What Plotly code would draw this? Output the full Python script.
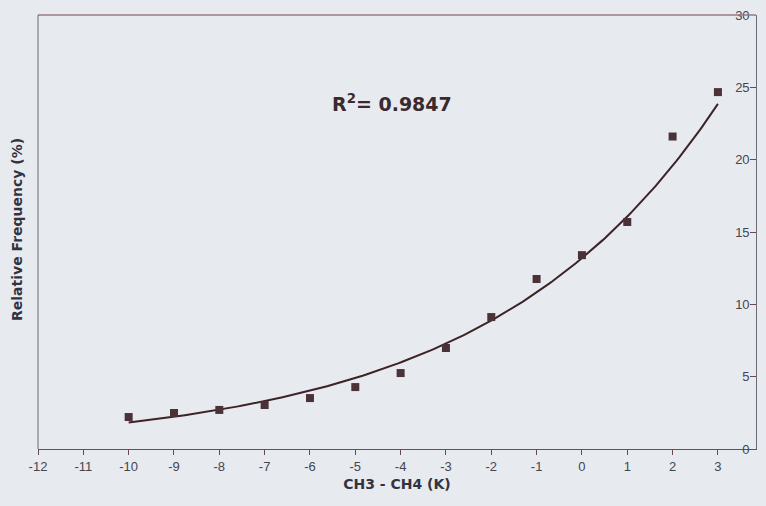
import numpy as np
import plotly.graph_objects as go

# Data
x_vals = [-10, -9, -8, -7, -6, -5, -4, -3, -2, -1, 0, 1, 2, 3]
freq = [2.21, 2.49, 2.70, 3.04, 3.52, 4.28, 5.25, 6.98, 9.12, 11.75, 13.4, 15.69, 21.6, 24.67]
x_ticks = list(range(-12, 4))
x_tick_text = ["-12", "-11", "-10", "-9", "-8", "-7", "-6", "-5", "-4", "-3",
               "-2", "-1", "0", "1", "2", "3"]
y_ticks = [0, 5, 10, 15, 20, 25, 30]
y_tick_text = ["0", "5", "10", "15", "20", "25", "30"]
r2_text = "R<sup>2</sup>= 0.9847"

# Exponential trendline fitted to the data (as Excel does)
b, ln_a = np.polyfit(np.array(x_vals, float), np.log(np.array(freq)), 1)
xt = np.linspace(min(x_vals), max(x_vals), 200)
yt = np.exp(ln_a) * np.exp(b * xt)

bg = "#e7eaef"
fig = go.Figure()
fig.add_trace(go.Scatter(x=xt, y=yt, mode="lines",
                         line=dict(color="#3d2226", width=2), hoverinfo="skip"))
fig.add_trace(go.Scatter(x=x_vals, y=freq, mode="markers",
                         marker=dict(symbol="square", size=8, color="#4a3238")))

fig.update_layout(
    width=766, height=506,
    margin=dict(l=38, r=10, t=15, b=57),
    paper_bgcolor=bg, plot_bgcolor=bg,
    showlegend=False,
    font=dict(family="Liberation Sans, Arial, sans-serif", color="#454550", size=13),
    xaxis=dict(range=[-12, 3.84], tickvals=x_ticks, ticktext=x_tick_text,
               ticks="outside", ticklen=5, automargin=False,
               tickcolor="#6a4a50", showgrid=False, zeroline=False,
               showline=True, linecolor="#8b4048", linewidth=1, mirror=False,
               tickfont=dict(size=13, color="#454550"),
               title=dict(text="<b>CH3 - CH4 (K)</b>", standoff=6,
                          font=dict(size=14, color="#333340",
                                    family="DejaVu Sans, sans-serif"))),
    yaxis=dict(range=[0, 30], tickvals=y_ticks, ticktext=y_tick_text,
               side="right", ticks="inside", automargin=False,
               ticklen=6, tickcolor="#6a4a50", ticklabelposition="inside",
               ticklabeloverflow="allow",
               showgrid=False, zeroline=False, showline=True,
               linecolor="#6a6a78", linewidth=1,
               tickfont=dict(size=13, color="#454550")),
    shapes=[
        dict(type="line", xref="paper", yref="paper", x0=0, x1=1, y0=1, y1=1,
             line=dict(color="#9a7a80", width=1.5)),
        dict(type="line", xref="paper", yref="paper", x0=0, x1=0, y0=0, y1=1,
             line=dict(color="#6a6a78", width=1)),
    ],
    annotations=[
        dict(text="<b>Relative Frequency (%)</b>", xref="paper", yref="paper",
             x=-0.029, y=0.505, xanchor="center", yanchor="middle", textangle=-90,
             showarrow=False, font=dict(size=14, color="#333340",
                                        family="DejaVu Sans, sans-serif")),
        dict(text="<b>" + r2_text + "</b>", xref="paper", yref="paper",
             x=0.493, y=0.797, xanchor="center", yanchor="middle", showarrow=False,
             font=dict(size=19, color="#3a2a30", family="DejaVu Sans, sans-serif")),
    ],
)
fig.write_html(
    "out.html",
    config={"displayModeBar": False},
    post_script="document.body.style.margin='0';document.body.style.background='" + bg + "';",
)
